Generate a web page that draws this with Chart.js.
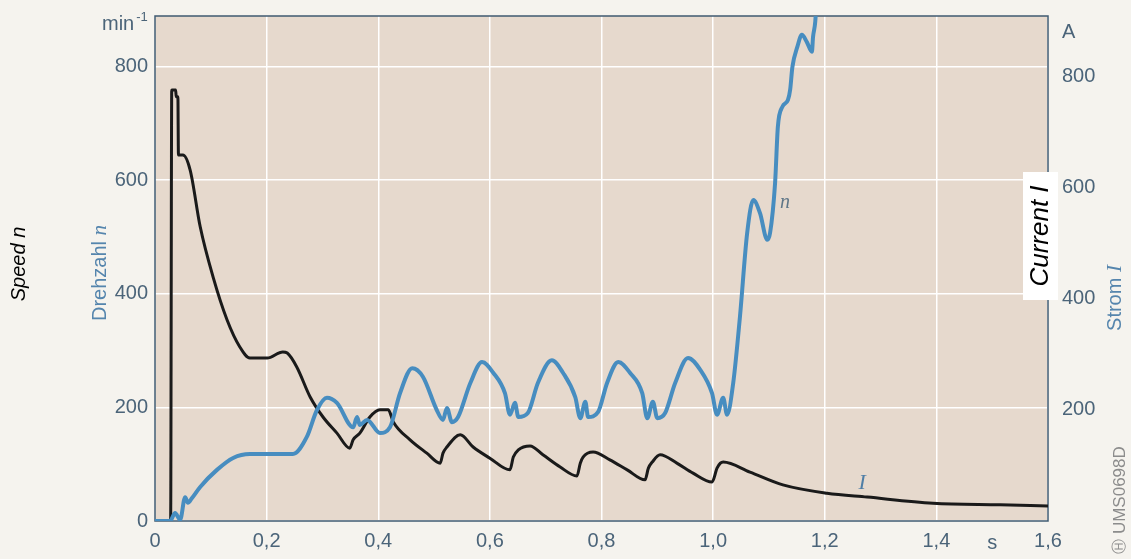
<!DOCTYPE html>
<html>
<head>
<meta charset="utf-8">
<script src="https://cdn.jsdelivr.net/npm/chart.js@4"></script>
<style>
  html, body { margin: 0; padding: 0; background: #f5f3ee; }
  #wrap { width: 1131px; height: 559px; position: relative; }
</style>
</head>
<body>
<div id="wrap"><canvas id="chart"></canvas></div>
<script>
// Drehzahl n (min^-1) over time t (s)
const timeN = [0, 0.027, 0.036, 0.045, 0.054, 0.059, 0.066, 0.081, 0.111, 0.140,
  0.170, 0.247, 0.272, 0.290, 0.308, 0.326, 0.355, 0.362, 0.367, 0.380,
  0.403, 0.421, 0.439, 0.461, 0.480, 0.505, 0.516, 0.523, 0.532, 0.543,
  0.565, 0.586, 0.606, 0.627, 0.636, 0.645, 0.651, 0.668, 0.686, 0.711,
  0.731, 0.753, 0.762, 0.771, 0.776, 0.794, 0.810, 0.830, 0.851, 0.873,
  0.882, 0.892, 0.900, 0.914, 0.932, 0.955, 0.977, 0.998, 1.007, 1.018,
  1.025, 1.036, 1.048, 1.061, 1.072, 1.084, 1.097, 1.102, 1.111, 1.116,
  1.124, 1.134, 1.138, 1.142, 1.151, 1.159, 1.168, 1.177, 1.179, 1.183, 1.186]
const speedN = [0, 0, 14, 2, 42, 32, 40, 60, 90, 111,
  118, 118, 148, 195, 217, 208, 165, 183, 169, 178,
  155, 165, 225, 269, 254, 195, 178, 199, 174, 183,
  243, 280, 261, 225, 187, 208, 183, 190, 243, 283,
  261, 218, 181, 210, 183, 192, 243, 280, 261, 225,
  181, 210, 181, 190, 243, 287, 266, 225, 187, 217,
  187, 243, 359, 507, 565, 542, 495, 507, 595, 694,
  729, 741, 759, 799, 835, 856, 843, 826, 852, 879, 930]

// Strom I (A) over time t (s)
const timeI = [0, 0.028, 0.030, 0.037, 0.038, 0.041, 0.042, 0.050, 0.063, 0.081,
  0.104, 0.129, 0.152, 0.170, 0.201, 0.229, 0.237, 0.254, 0.278, 0.301,
  0.326, 0.349, 0.355, 0.367, 0.385, 0.403, 0.418, 0.427, 0.457, 0.487,
  0.511, 0.516, 0.523, 0.547, 0.570, 0.600, 0.636, 0.642, 0.651, 0.672,
  0.695, 0.726, 0.756, 0.762, 0.767, 0.785, 0.815, 0.846, 0.878, 0.884,
  0.891, 0.905, 0.935, 0.964, 0.998, 1.007, 1.013, 1.018, 1.066, 1.125,
  1.204, 1.276, 1.394, 1.514, 1.600]
const currentI = [0, 0, 775, 775, 763, 763, 658, 658, 631, 529,
  439, 362, 313, 293, 293, 304, 302, 277, 223, 187,
  158, 131, 146, 158, 187, 200, 200, 178, 146, 122,
  104, 122, 133, 155, 133, 113, 92, 115, 128, 135,
  119, 97, 81, 104, 115, 124, 110, 92, 74, 95,
  106, 119, 104, 86, 70, 95, 104, 106, 88, 65,
  50, 43, 32, 29, 27]

const timeTicks = [0, 0.2, 0.4, 0.6, 0.8, 1.0, 1.2, 1.4, 1.6]
const speedTicks = [0, 200, 400, 600, 800]
const currentTicks = [200, 400, 600, 800]

const tickColor = '#4b6479'
const titleColor = '#5585ad'
const sans = '"Liberation Sans", Arial, sans-serif'
const serif = '"Liberation Serif", "Times New Roman", serif'

function vtext(ctx, parts, x, y) {
  ctx.save()
  ctx.translate(x, y)
  ctx.rotate(-Math.PI / 2)
  ctx.textBaseline = 'middle'
  ctx.textAlign = 'left'
  let total = 0
  parts.forEach(p => { ctx.font = p.f; total += ctx.measureText(p.t).width })
  let cx = -total / 2
  parts.forEach(p => {
    ctx.font = p.f
    ctx.fillStyle = p.c
    ctx.fillText(p.t, cx, 0)
    cx += ctx.measureText(p.t).width
  })
  ctx.restore()
}

const decor = {
  id: 'decor',
  beforeDraw(chart) {
    const { ctx, chartArea: a } = chart
    ctx.save()
    ctx.fillStyle = '#e6d9cd'
    ctx.fillRect(a.left, a.top, a.right - a.left, a.bottom - a.top)
    ctx.restore()
  },
  beforeDatasetsDraw(chart) {
    const { ctx, chartArea: a } = chart
    ctx.save()
    ctx.strokeStyle = '#3f5a70'
    ctx.lineWidth = 1.5
    ctx.strokeRect(a.left, a.top, a.right - a.left, a.bottom - a.top)
    ctx.restore()
  },
  afterDraw(chart) {
    const { ctx, scales } = chart
    ctx.save()
    // unit labels
    ctx.fillStyle = tickColor
    ctx.textBaseline = 'alphabetic'
    ctx.textAlign = 'left'
    ctx.font = '20px ' + sans
    ctx.fillText('min', 102, 30)
    const w = ctx.measureText('min').width
    ctx.font = '13px ' + sans
    ctx.fillText('-1', 102 + w + 2, 21)
    ctx.font = '20px ' + sans
    ctx.textBaseline = 'middle'
    ctx.fillText('A', 1062, 32)
    ctx.textAlign = 'center'
    ctx.fillText('s', scales.x.getPixelForValue(1.5), 543)

    // curve labels
    ctx.font = 'italic 20px ' + serif
    ctx.fillStyle = '#5f7687'
    ctx.fillText('n', scales.x.getPixelForValue(1.129), scales.y.getPixelForValue(560))
    ctx.font = 'italic 22px ' + serif
    ctx.fillStyle = '#4f7ea6'
    ctx.fillText('I', scales.x.getPixelForValue(1.267), scales.y1.getPixelForValue(68))

    // axis titles
    vtext(ctx, [{ t: 'Drehzahl ', f: '20px ' + sans, c: titleColor },
                { t: 'n', f: 'italic 21px ' + serif, c: titleColor }], 100, 273)
    vtext(ctx, [{ t: 'Strom ', f: '20px ' + sans, c: titleColor },
                { t: 'I', f: 'italic 21px ' + serif, c: titleColor }], 1115, 298)
    vtext(ctx, [{ t: 'Speed n', f: 'italic 20px ' + sans, c: '#000' }], 19, 264)

    ctx.fillStyle = '#ffffff'
    ctx.fillRect(1023, 172, 35, 128)
    vtext(ctx, [{ t: 'Current I', f: 'italic 26px ' + sans, c: '#000' }], 1041, 236)

    vtext(ctx, [{ t: '\u24BD', f: '15px "DejaVu Sans"', c: '#8c8c8c' },
                { t: ' UMS0698D', f: '17px ' + sans, c: '#8c8c8c' }], 1120, 500)
    ctx.restore()
  }
}

const tickFont = { family: sans, size: 20 }

new Chart(document.getElementById('chart'), {
  type: 'line',
  data: {
    datasets: [
      {
        label: 'Drehzahl n',
        data: timeN.map((t, i) => ({ x: t, y: speedN[i] })),
        borderColor: '#478dc0',
        borderWidth: 4,
        pointRadius: 0,
        tension: 0.4,
        cubicInterpolationMode: 'monotone',
        yAxisID: 'y'
      },
      {
        label: 'Strom I',
        data: timeI.map((t, i) => ({ x: t, y: currentI[i] })),
        borderColor: '#1a1a1a',
        borderWidth: 3,
        pointRadius: 0,
        tension: 0.4,
        cubicInterpolationMode: 'monotone',
        yAxisID: 'y1'
      }
    ]
  },
  options: {
    responsive: true,
    maintainAspectRatio: false,
    animation: false,
    layout: { padding: { top: 16, left: 0, right: 0, bottom: 0 } },
    plugins: { legend: { display: false }, tooltip: { enabled: false } },
    scales: {
      x: {
        type: 'linear', min: 0, max: 1.6,
        afterFit(s) { s.height = 38; s.paddingLeft = 0; s.paddingRight = 0 },
        afterBuildTicks(s) { s.ticks = timeTicks.map(v => ({ value: v })) },
        grid: { color: '#ffffff', lineWidth: 1.5, drawTicks: false },
        border: { display: false },
        ticks: {
          padding: 8, color: tickColor, font: tickFont, autoSkip: false, maxRotation: 0,
          callback: v => v === 0 ? '0' : v.toFixed(1).replace('.', ',')
        }
      },
      y: {
        position: 'left', min: 0, max: 889,
        afterFit(s) { s.width = 155; s.paddingTop = 0; s.paddingBottom = 0 },
        afterBuildTicks(s) { s.ticks = speedTicks.map(v => ({ value: v })) },
        grid: { color: '#ffffff', lineWidth: 1.5, drawTicks: false },
        border: { display: false },
        ticks: { padding: 7, color: tickColor, font: tickFont, callback: v => String(v) }
      },
      y1: {
        position: 'right', min: 0, max: 908,
        afterFit(s) { s.width = 83; s.paddingTop = 0; s.paddingBottom = 0 },
        afterBuildTicks(s) { s.ticks = currentTicks.map(v => ({ value: v })) },
        grid: { display: false, drawTicks: false },
        border: { display: false },
        ticks: { padding: 14, color: tickColor, font: tickFont, callback: v => String(v) }
      }
    }
  },
  plugins: [decor]
})
</script>
</body>
</html>
